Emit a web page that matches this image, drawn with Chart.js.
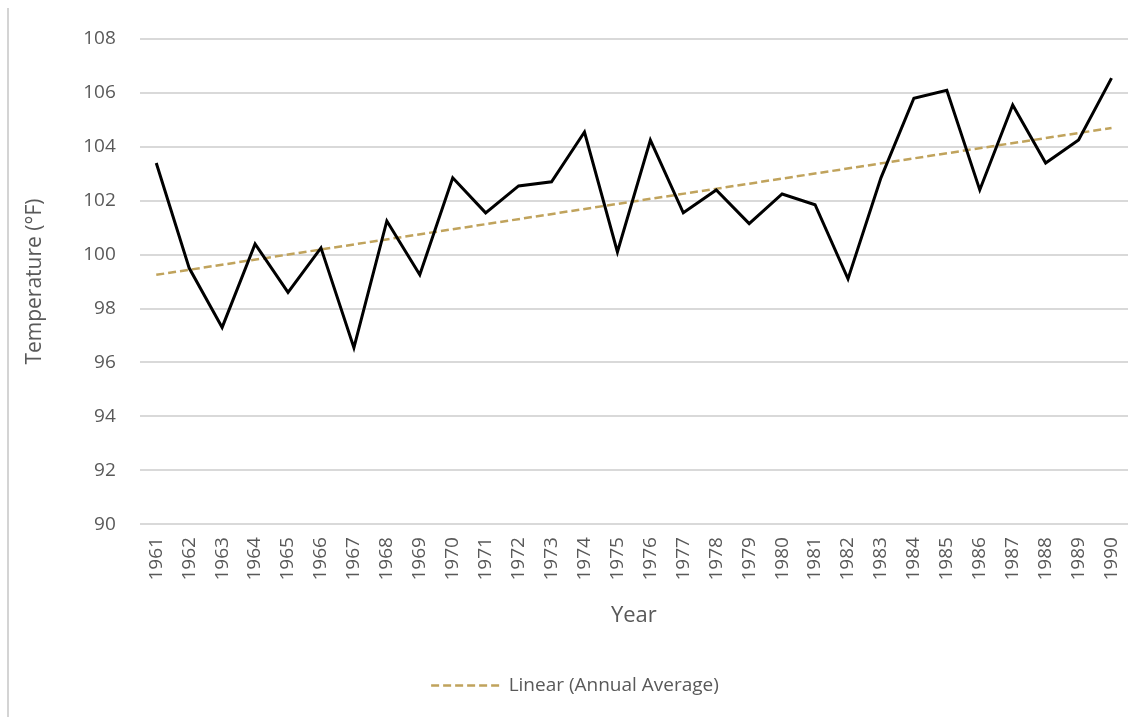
<!DOCTYPE html>
<html>
<head>
<meta charset="utf-8">
<script src="https://cdn.jsdelivr.net/npm/chart.js@4.4.1/dist/chart.umd.min.js"></script>
<style>
    html, body { margin: 0; padding: 0; background: #fff; }
    #wrap { position: relative; width: 1147px; height: 717px; overflow: hidden; }
    #frame { position: absolute; left: 7px; top: 8px; width: 2px; height: 709px; background: #d4d4d4; }
    canvas { position: absolute; left: 0; top: 0; }
</style>
</head>
<body>
<div id="wrap">
    <div id="frame"></div>
    <canvas id="tempChart" width="1147" height="717"></canvas>
</div>
<script>
// Years on the x axis
const years = ['1961', '1962', '1963', '1964', '1965', '1966', '1967', '1968', '1969', '1970',
    '1971', '1972', '1973', '1974', '1975', '1976', '1977', '1978', '1979', '1980',
    '1981', '1982', '1983', '1984', '1985', '1986', '1987', '1988', '1989', '1990'];

// Annual average maximum temperature (°F)
const annualAverage = [103.4, 99.5, 97.3, 100.4, 98.6, 100.25, 96.55, 101.25, 99.25, 102.85,
    101.55, 102.55, 102.7, 104.55, 100.1, 104.25, 101.55, 102.4, 101.15, 102.25,
    101.85, 99.1, 102.85, 105.8, 106.1, 102.4, 105.55, 103.4, 104.25, 106.55];

// Linear trendline, only its two end values are read; the line spans the gap
const trendline = [99.25, null, null, null, null, null, null, null, null, null,
    null, null, null, null, null, null, null, null, null, null,
    null, null, null, null, null, null, null, null, null, 104.7];

const yTicks = { min: 90, max: 108, step: 2 };

const gray = '#595959';
const font = "'Open Sans', sans-serif";

new Chart(document.getElementById('tempChart'), {
    type: 'line',
    data: {
        labels: years,
        datasets: [{
            label: 'Annual Average',
            data: annualAverage,
            borderColor: '#000',
            borderWidth: 3,
            pointRadius: 0,
            tension: 0,
            borderJoinStyle: 'miter'
        }, {
            label: 'Linear (Annual Average)',
            data: trendline,
            borderColor: '#c0a35c',
            borderWidth: 2.5,
            borderDash: [8, 4],
            pointRadius: 0,
            pointStyle: 'line',
            spanGaps: true
        }]
    },
    options: {
        responsive: false,
        animation: false,
        layout: { padding: { left: 22, right: 19, top: 39, bottom: 12 } },
        plugins: {
            tooltip: { enabled: false },
            legend: {
                position: 'bottom',
                labels: {
                    // only the trendline is listed, drawn with its dash
                    filter: item => item.datasetIndex === 1,
                    generateLabels: (chart) => {
                        const items = Chart.defaults.plugins.legend.labels.generateLabels(chart);
                        items.forEach(item => {
                            const ds = chart.data.datasets[item.datasetIndex];
                            item.lineDash = ds.borderDash || [];
                            item.lineWidth = ds.borderWidth;
                            item.strokeStyle = ds.borderColor;
                        });
                        return items;
                    },
                    usePointStyle: true,
                    pointStyleWidth: 68,
                    boxHeight: 8,
                    color: gray,
                    font: { family: font, size: 19 },
                    padding: 10
                }
            }
        },
        scales: {
            x: {
                offset: true,
                grid: { display: false },
                border: { display: false },
                ticks: {
                    color: gray,
                    font: { family: font, size: 19 },
                    maxRotation: 90,
                    minRotation: 90,
                    autoSkip: false,
                    padding: 5
                },
                title: {
                    display: true,
                    text: 'Year',
                    color: gray,
                    font: { family: font, size: 22 },
                    padding: { top: 17, bottom: 37 }
                }
            },
            y: {
                min: yTicks.min,
                max: yTicks.max,
                grid: { color: '#d9d9d9', lineWidth: 2, drawTicks: false },
                border: { display: false },
                ticks: {
                    stepSize: yTicks.step,
                    color: gray,
                    font: { family: font, size: 19 },
                    padding: 24
                },
                title: {
                    display: true,
                    text: 'Temperature (°F)',
                    color: gray,
                    font: { family: font, size: 21 },
                    padding: { top: 0, bottom: 12 }
                }
            }
        }
    }
});
</script>
</body>
</html>
